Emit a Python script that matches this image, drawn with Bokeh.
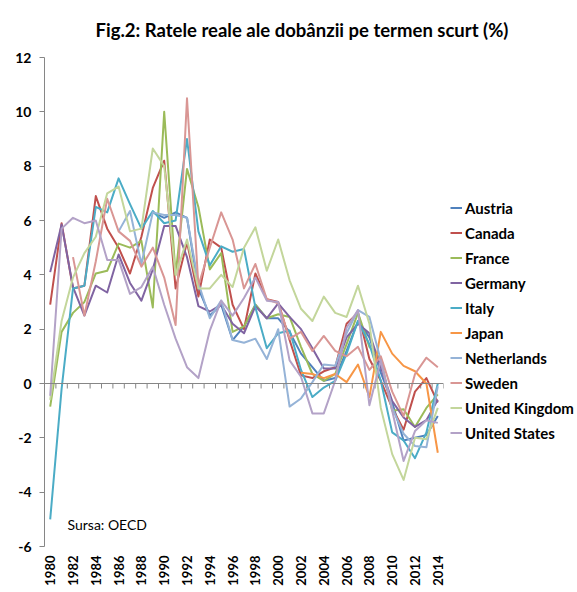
import math
from bokeh.plotting import figure
from bokeh.models import Range1d, FixedTicker, Span, Label, Legend, LegendItem, Title
from bokeh.embed import file_html
from bokeh.resources import INLINE

nan = float("nan")
years = list(range(1980, 2015))

austria = [nan, nan, nan, nan, nan, nan, nan, nan, nan, 6.3,
           6.1, 6.3, 6.1, 3.5, 2.5, 2.9, 1.6, 2.1, 2.9, 2.4,
           2.4, 1.9, 1.1, 0.6, 0.1, 0.2, 1.2, 2.3, 1.7, 0.4,
           -0.7, -2.1, -2.0, -1.9, -1.2]
canada = [2.9, 5.9, 3.5, 3.6, 6.9, 5.7, 5.0, 4.05, 5.4, 7.2,
          8.2, 3.5, 5.2, 3.2, 5.3, 5.0, 2.9, 2.0, 4.05, 3.1,
          3.0, 1.6, 0.3, 0.2, 0.45, 0.6, 2.2, 2.6, 0.9, 0.1,
          -0.9, -1.7, -0.3, 0.2, -0.7]
france = [-0.85, 1.9, 2.6, 3.0, 4.05, 4.15, 5.15, 5.0, 5.25, 2.8,
          10.0, 4.0, 7.9, 6.5, 4.2, 4.8, 1.9, 2.1, 2.9, 2.4,
          2.55, 2.45, 1.35, 0.35, 0.1, 0.35, 1.45, 2.6, 1.35, 0.9,
          -1.0, -0.95, -1.6, -0.9, -0.4]
germany = [4.1, 5.85, 3.55, 2.5, 3.6, 3.35, 4.75, 3.7, 3.05, 4.2,
           5.8, 5.8, 4.65, 2.85, 2.65, 2.9, 2.2, 1.85, 2.85, 2.4,
           2.95, 2.45, 2.0, 1.3, 0.55, 0.55, 1.7, 2.2, 1.85, 0.6,
           -0.65, -1.25, -1.6, -1.35, -0.6]
italy = [-5.0, -0.2, 3.5, 3.6, 6.5, 6.3, 7.55, 6.6, 5.7, 6.35,
         5.9, 6.0, 9.0, 5.6, 4.35, 5.05, 4.85, 4.95, 2.8, 1.3,
         1.85, 1.95, 0.5, -0.5, -0.15, 0.1, 1.1, 2.3, 1.45, 0.1,
         -1.8, -2.1, -2.75, -1.8, 0.0]
japan = [nan] * 22 + [0.4, 0.35, 0.2, 0.35, 0.05, 0.7, -0.5, 1.9,
                      1.1, 0.65, 0.45, 0.0, -2.55]
netherlands = [nan, nan, nan, nan, nan, nan, 5.6, 6.35, 4.4, 6.3,
               6.2, 6.2, 6.1, 3.7, 2.4, 3.05, 1.6, 1.5, 1.65, 0.9,
               2.0, -0.85, -0.55, 0.05, 0.7, 0.65, 1.85, 2.7, 2.45, 0.85,
               -0.9, -1.85, -2.3, -2.35, -0.1]
sweden = [nan, nan, 4.65, 2.5, 4.5, 6.8, 5.6, 5.25, 4.3, 5.0,
          3.9, 2.15, 10.5, 3.6, 5.0, 6.3, 5.3, 3.5, 4.4, 3.1,
          2.95, 1.65, 1.9, 1.2, 1.75, 1.2, 1.0, 1.35, 0.5, 1.0,
          -0.3, -1.2, 0.35, 0.95, 0.6]
united_kingdom = [-0.6, 2.3, 3.9, 4.8, 5.4, 7.0, 7.25, 5.6, 5.7, 8.65,
                  8.0, 4.0, 5.3, 3.5, 3.5, 4.0, 3.55, 5.0, 5.75, 4.15,
                  5.3, 3.8, 2.75, 2.3, 3.2, 2.6, 2.45, 3.6, 2.2, -0.9,
                  -2.6, -3.55, -2.0, -2.05, -0.9]
united_states = [-0.45, 5.7, 6.1, 5.9, 6.0, 4.55, 4.55, 3.3, 3.55, 4.3,
                 2.9, 1.65, 0.6, 0.2, 1.95, 3.05, 2.5, 3.15, 3.9, 3.05,
                 3.0, 0.85, 0.25, -1.1, -1.1, 0.1, 2.05, 2.7, -0.8, 0.85,
                 -1.0, -2.85, -1.75, -1.35, -1.45]

series_names = ["Austria", "Canada", "France", "Germany", "Italy", "Japan",
                "Netherlands", "Sweden", "United Kingdom", "United States"]
series_values = [austria, canada, france, germany, italy, japan,
                 netherlands, sweden, united_kingdom, united_states]
series_colors = ["#4F81BD", "#C0504D", "#9BBB59", "#8064A2", "#4BACC6",
                 "#F79646", "#95B3D7", "#D99694", "#C3D69B", "#B3A2C7"]

y_ticks = [-6, -4, -2, 0, 2, 4, 6, 8, 10, 12]
x_tick_years = years[::2]
title_text = "Fig.2: Ratele reale ale dobânzii pe termen scurt (%)"
source_text = "Sursa: OECD"

FONT = "Lato"
AXIS_GREY = "#868686"

p = figure(output_backend="svg", toolbar_location=None,
           frame_width=399, frame_height=489,
           min_border_left=44, min_border_right=134,
           min_border_top=57, min_border_bottom=46,
           x_range=Range1d(years[0] - 0.5, years[-1] + 0.5),
           y_range=Range1d(y_ticks[0], y_ticks[-1]),
           background_fill_color="white", border_fill_color="white",
           title=None)
p.outline_line_color = None
p.grid.visible = False

# y axis
ya = p.yaxis[0]
ya.ticker = FixedTicker(ticks=y_ticks)
ya.major_label_overrides = {t: str(t) for t in y_ticks}
ya.axis_line_color = AXIS_GREY
ya.major_tick_line_color = AXIS_GREY
ya.major_tick_out = 5
ya.major_tick_in = 0
ya.minor_tick_line_color = None
ya.major_label_text_font = FONT
ya.major_label_text_font_style = "bold"
ya.major_label_text_font_size = "14px"
ya.major_label_text_color = "black"
ya.major_label_standoff = 8

# x axis (labels only, at bottom)
xa = p.xaxis[0]
xa.ticker = FixedTicker(ticks=x_tick_years)
xa.major_label_orientation = math.pi / 2
xa.axis_line_color = None
xa.major_tick_line_color = None
xa.minor_tick_line_color = None
xa.major_tick_out = 0
xa.major_tick_in = 0
xa.major_label_standoff = 9
xa.major_label_text_font = FONT
xa.major_label_text_font_style = "bold"
xa.major_label_text_font_size = "13px"
xa.major_label_text_color = "black"

# category axis line at zero with tick marks between years
p.add_layout(Span(location=0, dimension="width", line_color=AXIS_GREY, line_width=1))
tick_x = [y + 0.5 for y in years]
tick_len = (y_ticks[-1] - y_ticks[0]) / 489 * 5
p.segment(x0=tick_x, y0=[0] * len(tick_x), x1=tick_x, y1=[-tick_len] * len(tick_x),
          line_color=AXIS_GREY, line_width=1)

items = []
for name, vals, col in zip(series_names, series_values, series_colors):
    r = p.line(years, vals, line_color=col, line_width=2, line_join="round")
    items.append(LegendItem(label=name, renderers=[r]))

legend = Legend(items=items, location=(7, 101), padding=0, margin=0,
                spacing=0, glyph_width=12, glyph_height=25, label_height=25,
                label_standoff=3, border_line_color=None,
                background_fill_alpha=0,
                label_text_font=FONT, label_text_font_style="bold",
                label_text_font_size="15px", label_text_color="black")
p.add_layout(legend, "right")

p.add_layout(Title(text=title_text, align="left", offset=51, standoff=33,
                   vertical_align="bottom",
                   text_font=FONT, text_font_style="bold", text_font_size="18.5px",
                   text_color="black"), "above")
p.add_layout(Label(x=23, y=22, x_units="screen", y_units="screen",
                   text=source_text, text_align="left", text_baseline="middle",
                   text_font=FONT, text_font_size="14px", text_color="black"))

open("out.html", "w").write(file_html(p, INLINE))
